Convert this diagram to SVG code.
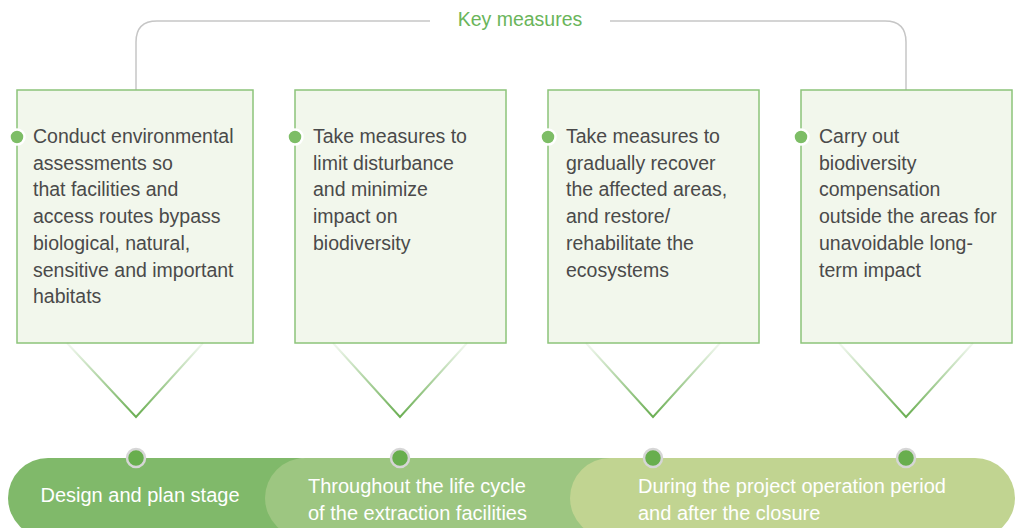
<svg xmlns="http://www.w3.org/2000/svg" width="1015" height="528" viewBox="0 0 1015 528">
<defs>
<linearGradient id="vg" x1="0" y1="0" x2="0" y2="1">
<stop offset="0" stop-color="#6aae52" stop-opacity="0.08"/>
<stop offset="1" stop-color="#6aae52" stop-opacity="1"/>
</linearGradient>
</defs>
<style>
.box{fill:#f2f7ec;stroke:#8cc47a;stroke-width:1.5}
.bt{font-family:"Liberation Sans",Arial,sans-serif;font-size:19.5px;fill:#4a4a4a}
.bd{fill:#7dbd66;stroke:#ffffff;stroke-width:2.5}
.vee{fill:none;stroke:url(#vg);stroke-width:2}
.conn{fill:none;stroke:#c6c6c6;stroke-width:1.5}
.pt{font-family:"Liberation Sans",Arial,sans-serif;font-size:20px;fill:#ffffff}
.pd{fill:#68ae4e;stroke:#d6d6d6;stroke-width:2.5}
</style>
<rect width="1015" height="528" fill="#ffffff"/>
<g id="connectors">
<path class="conn" d="M430,21 H157 Q136,21 136,42 V90"/>
<path class="conn" d="M610,21 H885 Q906,21 906,42 V90"/>
</g>
<text id="title" x="520" y="26" text-anchor="middle" font-family="Liberation Sans,Arial,sans-serif" font-size="19.5" fill="#6ab55a">Key measures</text>
<g id="box1">
<rect class="box" x="17" y="90" width="236" height="253"/>
<circle class="bd" cx="17" cy="137" r="7.5"/>
<text class="bt"><tspan x="33" y="143">Conduct environmental</tspan><tspan x="33" y="169.7">assessments so</tspan><tspan x="33" y="196.4">that facilities and</tspan><tspan x="33" y="223.1">access routes bypass</tspan><tspan x="33" y="249.8">biological, natural,</tspan><tspan x="33" y="276.5">sensitive and important</tspan><tspan x="33" y="303.2">habitats</tspan></text>
<path class="vee" d="M67,343 L136,417 L203,343"/>
</g>
<g id="box2">
<rect class="box" x="295" y="90" width="211" height="253"/>
<circle class="bd" cx="295" cy="137" r="7.5"/>
<text class="bt"><tspan x="313" y="143">Take measures to</tspan><tspan x="313" y="169.7">limit disturbance</tspan><tspan x="313" y="196.4">and minimize</tspan><tspan x="313" y="223.1">impact on</tspan><tspan x="313" y="249.8">biodiversity</tspan></text>
<path class="vee" d="M333,343 L400,417 L467,343"/>
</g>
<g id="box3">
<rect class="box" x="548" y="90" width="211" height="253"/>
<circle class="bd" cx="548" cy="137" r="7.5"/>
<text class="bt"><tspan x="566" y="143">Take measures to</tspan><tspan x="566" y="169.7">gradually recover</tspan><tspan x="566" y="196.4">the affected areas,</tspan><tspan x="566" y="223.1">and restore/</tspan><tspan x="566" y="249.8">rehabilitate the</tspan><tspan x="566" y="276.5">ecosystems</tspan></text>
<path class="vee" d="M586,343 L653,417 L720,343"/>
</g>
<g id="box4">
<rect class="box" x="801" y="90" width="211" height="253"/>
<circle class="bd" cx="801" cy="137" r="7.5"/>
<text class="bt"><tspan x="819" y="143">Carry out</tspan><tspan x="819" y="169.7">biodiversity</tspan><tspan x="819" y="196.4">compensation</tspan><tspan x="819" y="223.1">outside the areas for</tspan><tspan x="819" y="249.8">unavoidable long-</tspan><tspan x="819" y="276.5">term impact</tspan></text>
<path class="vee" d="M839,343 L906,417 L973,343"/>
</g>
<g id="stage1">
<rect x="8" y="458" width="330" height="80" rx="40" fill="#80b96a"/>
<text class="pt" x="140" y="502" text-anchor="middle">Design and plan stage</text>
</g>
<g id="stage2">
<rect x="265" y="458" width="400" height="80" rx="40" fill="#9dc681"/>
<text class="pt"><tspan x="308" y="493">Throughout the life cycle</tspan><tspan x="308" y="520">of the extraction facilities</tspan></text>
</g>
<g id="stage3">
<rect x="570" y="458" width="445" height="80" rx="40" fill="#c1d491"/>
<text class="pt"><tspan x="638" y="493">During the project operation period</tspan><tspan x="638" y="520">and after the closure</tspan></text>
</g>
<g id="markers">
<circle class="pd" cx="136" cy="458" r="9"/>
<circle class="pd" cx="400" cy="458" r="9"/>
<circle class="pd" cx="653" cy="458" r="9"/>
<circle class="pd" cx="906" cy="458" r="9"/>
</g>
</svg>
